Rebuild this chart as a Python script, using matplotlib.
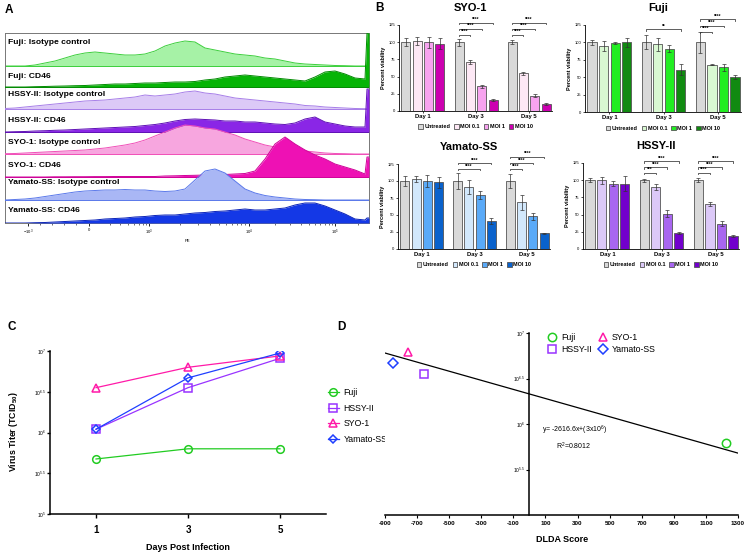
import numpy as np
import matplotlib
matplotlib.use("Agg")
import matplotlib.pyplot as plt
from matplotlib.patches import Patch

plt.rcParams['font.family'] = ['Liberation Sans', 'DejaVu Sans']
plt.rcParams['mathtext.fontset'] = 'custom'
plt.rcParams['mathtext.rm'] = 'Liberation Sans'
plt.rcParams['mathtext.bf'] = 'Liberation Sans:bold'
plt.rcParams['mathtext.default'] = 'regular'

# ---------------- data ----------------
# panel A: flow histograms, x in channel position, heights per row
hist_x = list(range(5, 366, 10)) + [367, 369]
hist_names = ['Fuji: Isotype control', 'Fuji: CD46',
              'HSSY-II: Isotype control', 'HSSY-II: CD46',
              'SYO-1: Isotype control', 'SYO-1: CD46',
              'Yamato-SS: Isotype control', 'Yamato-SS: CD46']
fuji_iso = [0, 0, 0, 1, 3, 5, 8, 11, 13, 14, 13, 12, 11, 11, 12, 15, 20, 23, 25, 24,
            18, 16, 14, 12, 11, 10, 8, 7, 5, 3, 2, 1.5, 1, 0.5, 0.3, 0, 0, 0, 0]
fuji_cd46 = [0, 0, 0, 0.3, 0.5, 0.8, 1, 1.3, 1.5, 2, 2.5, 3, 3, 3.5, 4, 4, 4.5, 5, 5, 5.5,
             7, 8, 10, 11, 12, 11, 10, 9, 8, 7, 6, 10, 15, 16, 13, 9, 8, 54, 54]
hssy_iso = [0.5, 1, 2, 3, 4, 5, 6, 7, 8, 8.5, 9, 10, 11, 12, 14, 13, 14, 15, 17, 18,
            16, 15, 13, 11, 10, 9, 8, 7, 6, 5, 3.5, 3, 2, 1.5, 1, 0.5, 0.3, 0, 0]
hssy_cd46 = [0, 0.3, 0.5, 1, 1.3, 1.7, 2, 2.5, 3, 3.5, 4, 4.5, 5, 5.5, 6.5, 7.5, 9, 11, 12.5, 13,
             12.5, 12, 11, 11, 10, 10, 9, 8, 7.5, 9, 13, 15, 10, 8, 6, 5, 5, 43, 43]
syo_iso = [0.3, 0.5, 1, 1.5, 2, 2.5, 3, 3.5, 4, 5, 6, 7.5, 9, 11, 14, 18, 22, 26, 29, 28,
           26, 25, 22, 19, 15, 12, 9, 7, 5, 4, 3, 2, 1, 0.5, 0.3, 0, 0, 0, 0]
syo_cd46 = [0, 0, 0, 0, 0, 0.2, 0.2, 0.3, 0.3, 0.4, 0.4, 0.5, 0.5, 0.5, 0.5, 0.5, 1, 1.2, 1.5, 1.7,
            2, 2.2, 2.5, 3, 3.5, 6, 18, 33, 40, 33, 27, 22, 18, 13, 10, 7, 3, 20, 20]
yam_iso = [0, 0.5, 1, 2, 3.5, 5, 6.5, 8, 9, 9.5, 10, 10, 10.5, 10, 10, 9, 8.5, 9, 11, 20,
           29, 31, 27, 19, 11, 7, 4.5, 3, 2, 1, 0.5, 0.3, 0, 0, 0, 0, 0, 0, 0]
yam_cd46 = [0, 0, 0, 0.3, 0.5, 1, 1.5, 2, 2.5, 3, 4, 4.5, 5, 6, 6.5, 7.5, 8, 8, 9, 10,
            10.5, 11.5, 12, 13, 14, 13, 13, 14, 15, 18, 20, 20, 17, 13, 9, 4, 3, 5, 5]
hist_vals = [fuji_iso, fuji_cd46, hssy_iso, hssy_cd46, syo_iso, syo_cd46, yam_iso, yam_cd46]
hist_fill = ['#a6f2a6', '#06b406', '#dcc9f7', '#8a26e6', '#f7a6df', '#ee11b4', '#a9b7f5', '#1438e6']
hist_edge = ['#3ccf3c', '#008a00', '#a77ee8', '#5e0fb5', '#f04fb8', '#cf0098', '#5a78ea', '#0a22b8']
row_base = [157, 136, 114, 91, 69, 46, 23, 0]
label_y = [180, 147, 129, 103, 80, 57, 40, 12]
pe_ticks = [28, 89, 149, 249, 335]
pe_labels = ['$-10^3$', '0', '$10^3$', '$10^4$', '$10^5$']

# panel B: viability (rows = day, cols = treatment)
days = ['Day 1', 'Day 3', 'Day 5']
treat = ['Untreated', 'MOI 0.1', 'MOI 1', 'MOI 10']
syo_m = [[100, 102, 100, 98], [100, 71, 36, 16], [100, 55, 22, 10]]
syo_e = [[6, 6, 8, 8], [5, 3, 2, 1], [3, 2, 2, 1]]
fuji_m = [[100, 95, 99, 100], [100, 97, 91, 61], [100, 68, 64, 50]]
fuji_e = [[4, 7, 2, 6], [10, 10, 5, 8], [15, 1, 5, 3]]
yam_m = [[100, 103, 100, 98], [100, 91, 79, 41], [100, 69, 48, 23]]
yam_e = [[7, 5, 9, 8], [12, 10, 6, 4], [10, 11, 5, 1]]
hssy_m = [[100, 100, 95, 95], [100, 90, 51, 23], [100, 65, 37, 19]]
hssy_e = [[3, 5, 4, 11], [2, 4, 5, 1], [3, 3, 4, 2]]
# (day, target bar, stars, level)
syo_sig = [(1, 1, '****', 0), (1, 2, '****', 1), (1, 3, '****', 2),
           (2, 1, '****', 0), (2, 2, '****', 1), (2, 3, '****', 2)]
fuji_sig = [(1, 3, '**', 0.45), (2, 1, '****', 0), (2, 2, '****', 1), (2, 3, '****', 2)]
yam_sig = [(1, 2, '****', 0), (1, 3, '****', 1),
           (2, 1, '****', 0), (2, 2, '****', 1), (2, 3, '****', 2)]
hssy_sig = [(1, 1, '***', 0), (1, 2, '****', 1), (1, 3, '****', 2),
            (2, 1, '****', 0), (2, 2, '****', 1), (2, 3, '****', 2)]

# panel C: log10 virus titer
dpi_days = [1, 3, 5]
lines = ['Fuji', 'HSSY-II', 'SYO-1', 'Yamato-SS']
titer_log = [[5.675, 5.80, 5.80],
             [6.04, 6.55, 6.91],
             [6.55, 6.80, 6.94],
             [6.04, 6.67, 6.975]]
line_col = ['#22cc22', '#9933ff', '#ff1aa8', '#1f3fff']
line_mk = ['o', 's', '^', 'D']

# panel D: DLDA score vs titer
dlda = [1225, -657, -757, -850]
dlda_log = [5.79, 6.55, 6.79, 6.67]
fit_x = [-900, 1300]
fit_log = [6.78, 5.68]

# ---------------- figure ----------------
W, H = 747, 554
fig = plt.figure(figsize=(W / 100, H / 100), dpi=100)


def px_axes(left, top, width, height):
    return fig.add_axes([left / W, 1 - (top + height) / H, width / W, height / H])


def ftext(x, y, s, **kw):
    fig.text(x / W, 1 - y / H, s, **kw)


# panel labels
for lab, x, y in [('A', 5, 10), ('B', 375, 8), ('C', 8, 327), ('D', 337, 327)]:
    ftext(x, y, lab, fontsize=8.5, fontweight='bold', va='center')

# ---- A ----
axA = px_axes(5, 33, 364, 190)
for i in range(8):
    b = row_base[i]
    top = [b + v for v in hist_vals[i]]
    axA.fill_between(hist_x, b, top, color=hist_fill[i], lw=0, zorder=2 + i)
    axA.plot(hist_x, top, color=hist_edge[i], lw=0.7, zorder=2 + i)
    axA.plot([5, 369], [b, b], color=hist_edge[i], lw=0.7, zorder=2 + i)
    axA.text(8, label_y[i], hist_names[i], fontsize=6.1, fontweight='bold',
             va='center', ha='left', zorder=20)
axA.set_xlim(5, 369)
axA.set_ylim(0, 190)
axA.set_yticks([])
axA.set_xticks(pe_ticks)
axA.set_xticklabels(pe_labels, fontsize=3)
axA.set_xticks([40, 52, 64, 76, 110, 120, 128, 134, 139, 143, 146, 180, 198, 210, 219, 226, 232,
                237, 241, 245, 275, 290, 301, 309, 315, 320, 325, 329, 332, 358], minor=True)
axA.tick_params(axis='x', which='major', length=2.5, width=0.6, pad=1)
axA.tick_params(axis='x', which='minor', length=1.5, width=0.4)
axA.set_xlabel('PE', fontsize=3, labelpad=1)
for s in axA.spines.values():
    s.set_color('#777777')
    s.set_linewidth(0.7)

# ---- B ----
offs = [-0.32, -0.107, 0.107, 0.32]
bw = 0.17
panels = [
    ('SYO-1', (399, 25, 153, 86), syo_m, syo_e, syo_sig, 111, 8.5,
     ['#d9d9d9', '#fde8f5', '#f7a3ef', '#cc00b0']),
    ('Fuji', (585, 25, 156, 87), fuji_m, fuji_e, fuji_sig, 115, 9,
     ['#d9d9d9', '#d9f8d2', '#22ee22', '#118a11']),
    ('Yamato-SS', (398, 164, 152, 85), yam_m, yam_e, yam_sig, 117.5, 9,
     ['#d9d9d9', '#d2e8fc', '#5aaaf8', '#0a62cc']),
    ('HSSY-II', (583, 163, 156, 86), hssy_m, hssy_e, hssy_sig, 110.6, 8.3,
     ['#d9d9d9', '#dcc9f8', '#a866f0', '#7200cc']),
]
for title, rect, m, e, sig, base, step, cols in panels:
    ax = px_axes(*rect)
    g = np.arange(len(days))
    for j in range(4):
        vals = [m[d][j] for d in range(3)]
        errs = [e[d][j] for d in range(3)]
        ax.bar(g + offs[j], vals, bw, color=cols[j], edgecolor='#555555', lw=0.6,
               label=treat[j], zorder=2)
        ax.errorbar(g + offs[j], vals, yerr=errs, fmt='none', ecolor='#333333',
                    elinewidth=0.5, capsize=1.3, capthick=0.5, zorder=3)
    for d, t, stars, lvl in sig:
        y = base + step * lvl
        x1, x2 = d + offs[0], d + offs[t]
        ax.plot([x1, x1, x2, x2], [y - 2, y, y, y - 2], color='#444444', lw=0.6,
                clip_on=False)
        ax.text((x1 + x2) / 2, y + 0.8, stars, fontsize=3.4, ha='center', va='bottom',
                fontweight='bold')
    ax.set_xlim(-0.45, 2.43)
    ax.set_ylim(0, 125)
    ax.set_yticks([0, 25, 50, 75, 100, 125])
    ax.tick_params(axis='y', labelsize=3, length=1.5, width=0.5, pad=1)
    ax.set_xticks(g)
    ax.set_xticklabels(days, fontsize=4.2, fontweight='bold')
    ax.tick_params(axis='x', length=1.5, width=0.5, pad=1)
    ax.set_ylabel('Percent viability', fontsize=4, fontweight='bold', labelpad=2)
    for s in ['top', 'right']:
        ax.spines[s].set_visible(False)
    for s in ['left', 'bottom']:
        ax.spines[s].set_linewidth(0.6)
    handles = [Patch(facecolor=cols[j], edgecolor='#555555', lw=0.6, label=treat[j])
               for j in range(4)]
    leg = ax.legend(handles=handles, loc='upper center', bbox_to_anchor=(0.5, -0.13), ncol=4,
                    frameon=False, fontsize=4, handlelength=0.8, handleheight=0.8,
                    handletextpad=0.3, columnspacing=0.7, borderaxespad=0)
    for t in leg.get_texts():
        t.set_fontweight('bold')
    cx = (rect[0] + rect[0] + rect[2]) / 2 - 8
    ftext(cx + 3, rect[1] - 17, title, fontsize=8, fontweight='bold', ha='center', va='center')

# ---- C ----
axC = px_axes(50, 351, 276, 163)
for i in range(4):
    axC.plot(dpi_days, [10 ** v for v in titer_log[i]], color=line_col[i], lw=0.9,
             marker=line_mk[i], ms=5.5 if line_mk[i] != 'D' else 4.5, mfc='none',
             mec=line_col[i], mew=1.1, label=lines[i])
axC.set_yscale('log')
axC.set_ylim(1e5, 1e7)
axC.set_xlim(0, 6)
yt = [5, 5.5, 6, 6.5, 7]
axC.set_yticks([10 ** v for v in yt])
axC.set_yticklabels(['$10^{%g}$' % v for v in yt], fontsize=3.5)
axC.minorticks_off()
axC.set_xticks(dpi_days)
axC.set_xticklabels(['1', '3', '5'], fontsize=7, fontweight='bold')
axC.tick_params(axis='x', length=3, width=1, pad=5)
axC.tick_params(axis='y', length=2, width=1, pad=1)
for s in ['top', 'right']:
    axC.spines[s].set_visible(False)
for s in ['left', 'bottom']:
    axC.spines[s].set_linewidth(1.1)
ftext(13, 432, 'Virus Titer (TCID$_{\\mathbf{50}}$)', fontsize=6.3, fontweight='bold',
      rotation=90, ha='center', va='center')
ftext(188, 547, 'Days Post Infection', fontsize=6.5, fontweight='bold', ha='center', va='center')
axC.legend(loc='upper left', bbox_to_anchor=(328 / W, 1 - 388 / H), bbox_transform=fig.transFigure,
           frameon=False, fontsize=6.3, handlelength=1.2, handletextpad=0.6, labelspacing=0.75,
           borderaxespad=0, borderpad=0)

# ---- D ----
axD = px_axes(385, 333, 353, 182)
axD.plot(fit_x, [10 ** v for v in fit_log], color='black', lw=0.9)
for i in range(4):
    axD.plot([dlda[i]], [10 ** dlda_log[i]], ls='none', marker=line_mk[i],
             ms=6 if line_mk[i] != 'D' else 4.8, mfc='none', mec=line_col[i], mew=1.1,
             label=lines[i])
axD.set_yscale('log')
axD.set_ylim(1e5, 1e7)
axD.set_xlim(-900, 1300)
axD.spines['left'].set_position(('data', 0))
axD.spines['left'].set_linewidth(1.1)
axD.spines['bottom'].set_linewidth(1.1)
for s in ['top', 'right']:
    axD.spines[s].set_visible(False)
yt2 = [5.5, 6, 6.5, 7]
axD.set_yticks([10 ** v for v in yt2])
axD.set_yticklabels(['$10^{%g}$' % v for v in yt2], fontsize=3.5)
axD.minorticks_off()
axD.set_xticks(np.arange(-900, 1301, 200))
axD.set_xticklabels([str(v) for v in np.arange(-900, 1301, 200)], fontsize=4.5,
                    fontweight='bold')
axD.tick_params(axis='x', length=2, width=0.8, pad=2)
axD.tick_params(axis='y', length=2, width=0.8, pad=1)
ftext(562, 539, 'DLDA Score', fontsize=6.5, fontweight='bold', ha='center', va='center')
ftext(542, 430, 'y= -2616.6x+(3x10$^{6}$)', fontsize=5, ha='left', va='center')
ftext(556, 446, 'R$^{2}$=0.8012', fontsize=5, ha='left', va='center')
axD.legend(loc='upper left', bbox_to_anchor=(548 / W, 1 - 333 / H), bbox_transform=fig.transFigure,
           ncol=2, frameon=False, fontsize=6.3, handlelength=1.0, handletextpad=0.5,
           labelspacing=0.35, columnspacing=0.8, borderaxespad=0, borderpad=0)

fig.savefig('out.png', dpi=100)
